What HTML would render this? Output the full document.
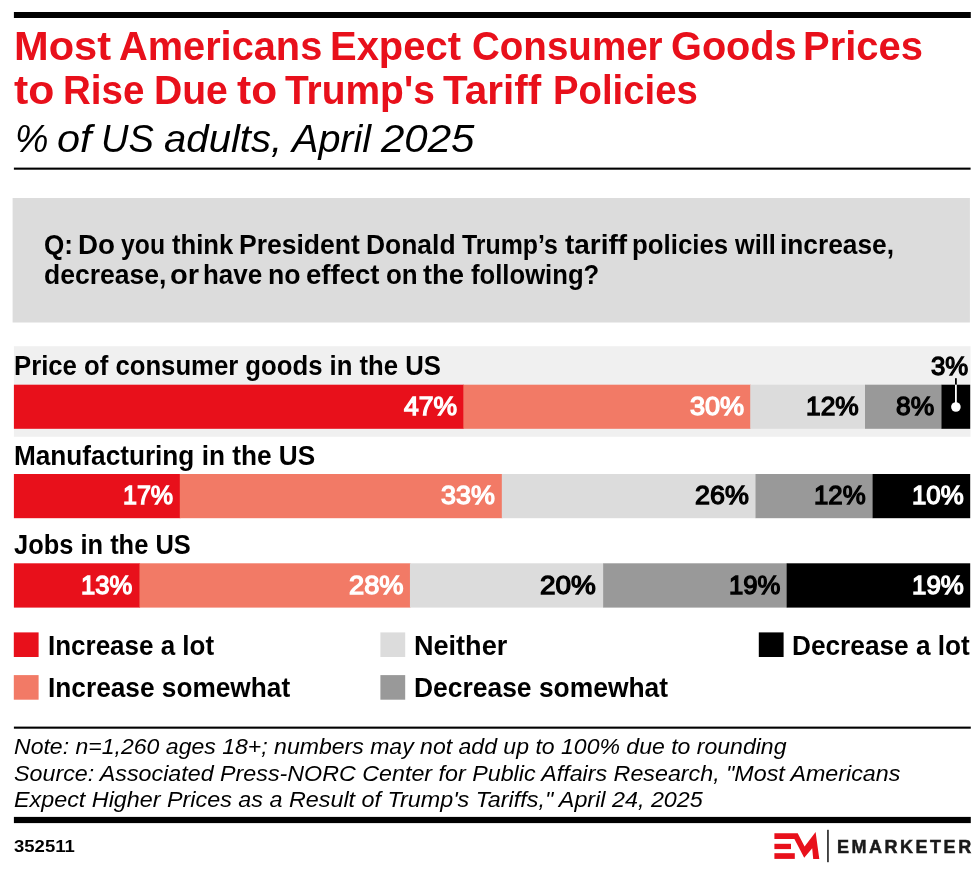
<!DOCTYPE html>
<html lang="en"><head><meta charset="utf-8"><title>Most Americans Expect Consumer Goods Prices to Rise Due to Trump's Tariff Policies</title>
<style>
html,body{margin:0;padding:0;background:#fff}
body{width:980px;height:873px;position:relative;overflow:hidden;font-family:"Liberation Sans",sans-serif;color:#000}
.t{position:absolute;white-space:nowrap;line-height:1;transform-origin:0 50%}
.b{font-weight:bold}
.i{font-style:italic}
.sb{font-weight:bold}
.nb{font-weight:normal;-webkit-text-stroke:1.3px currentColor}
.r{position:absolute}
h1,p{margin:0;font:inherit}
</style></head><body>
<svg class="r" style="left:0;top:0" width="980" height="873" viewBox="0 0 980 873"><rect x="13.90" y="12.00" width="956.90" height="6.00" fill="#000"/>
<rect x="13.90" y="167.60" width="956.70" height="2.10" fill="#000"/>
<rect x="12.60" y="198.00" width="957.30" height="124.50" fill="#dcdcdc"/>
<rect x="13.90" y="346.20" width="956.60" height="90.60" fill="#f0f0f0"/>
<rect x="13.90" y="384.70" width="450.06" height="44.10" fill="#e8101b"/>
<rect x="463.36" y="384.70" width="287.49" height="44.10" fill="#f27a66"/>
<rect x="750.25" y="384.70" width="115.36" height="44.10" fill="#dcdcdc"/>
<rect x="865.01" y="384.70" width="77.10" height="44.10" fill="#999999"/>
<rect x="941.51" y="384.70" width="28.69" height="44.10" fill="#000000"/>
<rect x="13.90" y="474.00" width="166.49" height="44.20" fill="#e8101b"/>
<rect x="179.79" y="474.00" width="322.62" height="44.20" fill="#f27a66"/>
<rect x="501.81" y="474.00" width="254.31" height="44.20" fill="#dcdcdc"/>
<rect x="755.52" y="474.00" width="117.70" height="44.20" fill="#999999"/>
<rect x="872.62" y="474.00" width="97.58" height="44.20" fill="#000000"/>
<rect x="13.90" y="563.30" width="126.17" height="44.30" fill="#e8101b"/>
<rect x="139.47" y="563.30" width="271.07" height="44.30" fill="#f27a66"/>
<rect x="409.94" y="563.30" width="193.79" height="44.30" fill="#dcdcdc"/>
<rect x="603.14" y="563.30" width="184.13" height="44.30" fill="#999999"/>
<rect x="786.67" y="563.30" width="183.53" height="44.30" fill="#000000"/>
<rect x="955.00" y="378.20" width="1.80" height="6.60" fill="#000"/>
<rect x="955.00" y="384.70" width="1.80" height="22.00" fill="#fff"/>
<circle cx="955.9" cy="407" r="4.8" fill="#fff"/>
<rect x="13.80" y="632.40" width="24.80" height="24.60" fill="#e8101b"/>
<rect x="13.80" y="675.10" width="24.80" height="24.60" fill="#f27a66"/>
<rect x="380.40" y="632.40" width="24.80" height="24.60" fill="#dcdcdc"/>
<rect x="380.40" y="675.10" width="24.80" height="24.60" fill="#999999"/>
<rect x="758.80" y="632.40" width="24.80" height="24.60" fill="#000000"/>
<rect x="13.90" y="726.60" width="956.90" height="2.10" fill="#000"/>
<rect x="13.90" y="816.90" width="956.90" height="6.20" fill="#000"/>
<g fill="#e8101b"><polygon points="774.4,833.2 797.7,833.2 804.6,846.6 815.6,831.9 819.3,858.9 813.2,858.9 812.2,848.3 804.2,857.7 794.4,838.9 774.4,838.9"/>
<rect x="774.4" y="843.8" width="16.6" height="5.3"/><rect x="774.4" y="853.2" width="20.4" height="5.7"/></g>
<rect x="827.2" y="829.8" width="1.5" height="32.4" fill="#111"/></svg>
<header>
<h1><span class="t b" style="left:14px;top:25.75px;font-size:40.5px;color:#e8101b;transform:scaleX(1.0268);">Most</span> <span class="t b" style="left:119px;top:25.75px;font-size:40.5px;color:#e8101b;transform:scaleX(0.9813);">Americans</span> <span class="t b" style="left:330px;top:25.75px;font-size:40.5px;color:#e8101b;transform:scaleX(0.9859);">Expect</span> <span class="t b" style="left:472px;top:25.75px;font-size:40.5px;color:#e8101b;transform:scaleX(0.9515);">Consumer</span> <span class="t b" style="left:671px;top:25.75px;font-size:40.5px;color:#e8101b;transform:scaleX(0.9801);">Goods</span> <span class="t b" style="left:803px;top:25.75px;font-size:40.5px;color:#e8101b;transform:scaleX(0.9864);">Prices</span>
<span class="t b" style="left:14px;top:69.75px;font-size:40.5px;color:#e8101b;transform:scaleX(1.0551);">to</span> <span class="t b" style="left:63px;top:69.75px;font-size:40.5px;color:#e8101b;transform:scaleX(0.9508);">Rise</span> <span class="t b" style="left:154px;top:69.75px;font-size:40.5px;color:#e8101b;transform:scaleX(0.9655);">Due</span> <span class="t b" style="left:237px;top:69.75px;font-size:40.5px;color:#e8101b;transform:scaleX(1.0480);">to</span> <span class="t b" style="left:285px;top:69.75px;font-size:40.5px;color:#e8101b;transform:scaleX(0.9607);">Trump's</span> <span class="t b" style="left:443px;top:69.75px;font-size:40.5px;color:#e8101b;transform:scaleX(0.9985);">Tariff</span> <span class="t b" style="left:553px;top:69.75px;font-size:40.5px;color:#e8101b;transform:scaleX(0.9458);">Policies</span></h1>
<p><span class="t i" style="left:15px;top:120px;font-size:38px;transform:scaleX(0.9916);">%</span> <span class="t i" style="left:57px;top:120px;font-size:38px;transform:scaleX(1.0907);">of</span> <span class="t i" style="left:101px;top:120px;font-size:38px;transform:scaleX(1.0024);">US</span> <span class="t i" style="left:164px;top:120px;font-size:38px;transform:scaleX(1.0559);">adults,</span> <span class="t i" style="left:292px;top:120px;font-size:38px;transform:scaleX(1.0407);">April</span> <span class="t i" style="left:381px;top:120px;font-size:38px;transform:scaleX(1.1054);">2025</span></p>
</header>
<section class="question">
<p><span class="t sb" style="left:44px;top:231.5px;font-size:27px;transform:scaleX(0.9674);">Q:</span> <span class="t sb" style="left:78px;top:231.5px;font-size:27px;transform:scaleX(1.0284);">Do</span> <span class="t sb" style="left:121px;top:231.5px;font-size:27px;transform:scaleX(0.9165);">you</span> <span class="t sb" style="left:172px;top:231.5px;font-size:27px;transform:scaleX(0.9508);">think</span> <span class="t sb" style="left:239px;top:231.5px;font-size:27px;transform:scaleX(0.9820);">President</span> <span class="t sb" style="left:366px;top:231.5px;font-size:27px;transform:scaleX(0.9787);">Donald</span> <span class="t sb" style="left:462px;top:231.5px;font-size:27px;transform:scaleX(0.9218);">Trump’s</span> <span class="t sb" style="left:565px;top:231.5px;font-size:27px;transform:scaleX(1.0357);">tariff</span> <span class="t sb" style="left:632px;top:231.5px;font-size:27px;transform:scaleX(0.9562);">policies</span> <span class="t sb" style="left:735px;top:231.5px;font-size:27px;transform:scaleX(0.9376);">will</span> <span class="t sb" style="left:780px;top:231.5px;font-size:27px;transform:scaleX(0.9735);">increase,</span>
<span class="t sb" style="left:44px;top:261.5px;font-size:27px;transform:scaleX(0.9815);">decrease,</span> <span class="t sb" style="left:170px;top:261.5px;font-size:27px;transform:scaleX(1.0773);">or</span> <span class="t sb" style="left:203px;top:261.5px;font-size:27px;transform:scaleX(0.9609);">have</span> <span class="t sb" style="left:268px;top:261.5px;font-size:27px;transform:scaleX(0.9875);">no</span> <span class="t sb" style="left:306px;top:261.5px;font-size:27px;transform:scaleX(1.0193);">effect</span> <span class="t sb" style="left:386px;top:261.5px;font-size:27px;transform:scaleX(0.9609);">on</span> <span class="t sb" style="left:423px;top:261.5px;font-size:27px;transform:scaleX(1.0113);">the</span> <span class="t sb" style="left:471px;top:261.5px;font-size:27px;transform:scaleX(0.9504);">following?</span></p>
</section>
<section class="chart">
<div class="row">
<span class="t sb" style="left:14px;top:352.5px;font-size:27px;transform:scaleX(0.9518);">Price of consumer goods in the US</span>
<span class="t nb" style="left:404px;top:394.25px;font-size:25.5px;color:#ffffff;transform:scaleX(1.0393);">47%</span>
<span class="t nb" style="left:690px;top:394.25px;font-size:25.5px;color:#ffffff;transform:scaleX(1.0618);">30%</span>
<span class="t nb" style="left:806px;top:394.25px;font-size:25.5px;color:#000000;transform:scaleX(1.0321);">12%</span>
<span class="t nb" style="left:896px;top:394.25px;font-size:25.5px;color:#000000;transform:scaleX(1.0356);">8%</span>
<span class="t nb" style="left:931px;top:354.25px;font-size:25.5px;transform:scaleX(1.0112);">3%</span>
</div>
<div class="row">
<span class="t sb" style="left:14px;top:442.5px;font-size:27px;transform:scaleX(0.9697);">Manufacturing in the US</span>
<span class="t nb" style="left:123px;top:483.25px;font-size:25.5px;color:#ffffff;transform:scaleX(0.9824);">17%</span>
<span class="t nb" style="left:441px;top:483.25px;font-size:25.5px;color:#ffffff;transform:scaleX(1.0541);">33%</span>
<span class="t nb" style="left:695px;top:483.25px;font-size:25.5px;color:#000000;transform:scaleX(1.0538);">26%</span>
<span class="t nb" style="left:814px;top:483.25px;font-size:25.5px;color:#000000;transform:scaleX(1.0125);">12%</span>
<span class="t nb" style="left:912px;top:483.25px;font-size:25.5px;color:#ffffff;transform:scaleX(1.0129);">10%</span>
</div>
<div class="row">
<span class="t sb" style="left:14px;top:531.5px;font-size:27px;transform:scaleX(0.9425);">Jobs in the US</span>
<span class="t nb" style="left:81px;top:573.25px;font-size:25.5px;color:#ffffff;transform:scaleX(1.0050);">13%</span>
<span class="t nb" style="left:349px;top:573.25px;font-size:25.5px;color:#ffffff;transform:scaleX(1.0685);">28%</span>
<span class="t nb" style="left:540px;top:573.25px;font-size:25.5px;color:#000000;transform:scaleX(1.0931);">20%</span>
<span class="t nb" style="left:729px;top:573.25px;font-size:25.5px;color:#000000;transform:scaleX(1.0075);">19%</span>
<span class="t nb" style="left:912px;top:573.25px;font-size:25.5px;color:#ffffff;transform:scaleX(1.0145);">19%</span>
</div>
</section>
<section class="legend">
<span class="t sb" style="left:48px;top:632.5px;font-size:27px;transform:scaleX(0.9621);">Increase a lot</span>
<span class="t sb" style="left:48px;top:674.5px;font-size:27px;transform:scaleX(0.9719);">Increase somewhat</span>
<span class="t sb" style="left:414px;top:632.5px;font-size:27px;transform:scaleX(1.0023);">Neither</span>
<span class="t sb" style="left:414px;top:674.5px;font-size:27px;transform:scaleX(0.9787);">Decrease somewhat</span>
<span class="t sb" style="left:792px;top:632.5px;font-size:27px;transform:scaleX(0.9710);">Decrease a lot</span>
</section>
<footer>
<p><span class="t i" style="left:14px;top:734.6px;font-size:22.8px;transform:scaleX(1.0108);">Note: n=1,260 ages 18+; numbers may not add up to 100% due to rounding</span>
<span class="t i" style="left:14px;top:761.6px;font-size:22.8px;transform:scaleX(1.0207);">Source: Associated Press-NORC Center for Public Affairs Research, "Most Americans</span>
<span class="t i" style="left:14px;top:787.6px;font-size:22.8px;transform:scaleX(1.0235);">Expect Higher Prices as a Result of Trump's Tariffs," April 24, 2025</span></p>
<span class="t b" style="left:14px;top:838.35px;font-size:17.3px;transform:scaleX(1.0714);">352511</span>
<span class="t b" style="left:837px;top:838.1px;font-size:18.8px;color:#1a1a1a;letter-spacing:2.6px;-webkit-text-stroke:0.5px #1a1a1a;transform:scaleX(0.9599);">EMARKETER</span>
</footer>
</body></html>
